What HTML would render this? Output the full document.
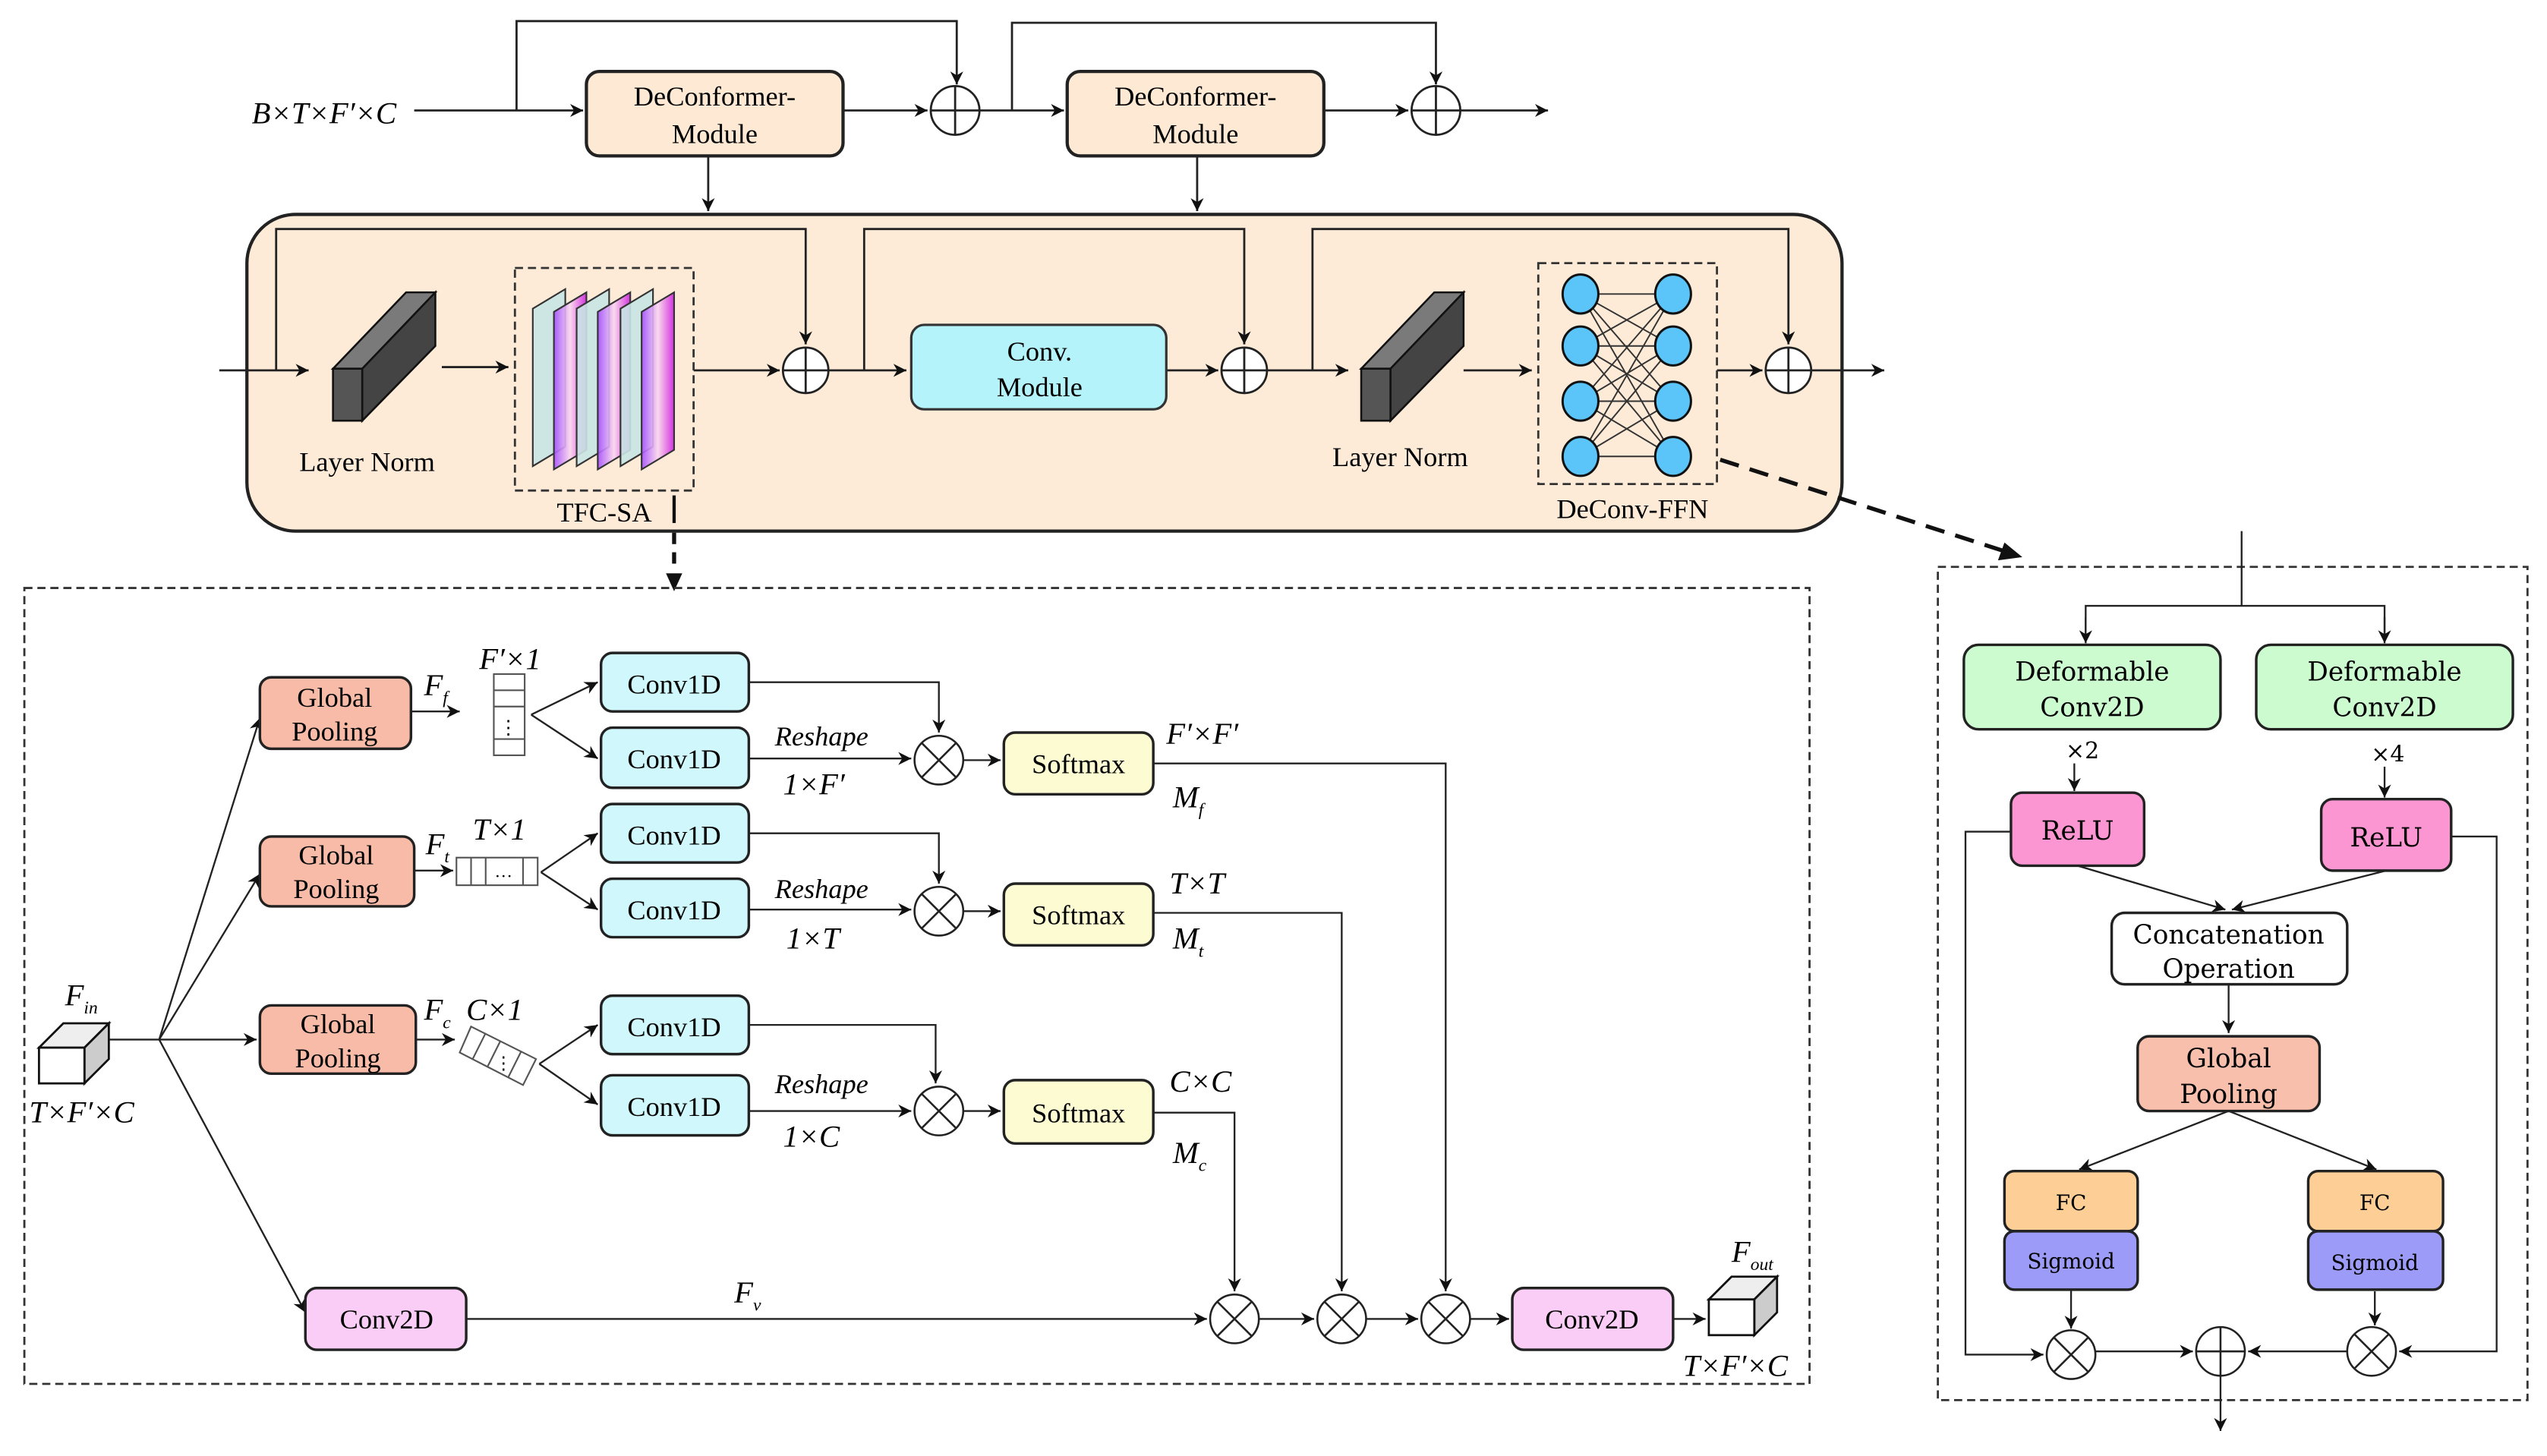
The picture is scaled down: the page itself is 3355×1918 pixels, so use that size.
<!DOCTYPE html>
<html><head><meta charset="utf-8"><style>html,body{margin:0;padding:0;background:#fff}svg{display:block}
svg text{font-family:"Liberation Serif","Times New Roman",serif}
svg g.dv text{font-family:"DejaVu Serif",serif}</style></head>
<body>
<svg width="3355" height="1918" viewBox="0 0 1568 896.4" xmlns="http://www.w3.org/2000/svg" font-size="17">
<defs>
<marker id="a" viewBox="0 0 10 10" refX="10" refY="5" markerWidth="8" markerHeight="8" orient="auto" markerUnits="userSpaceOnUse"><path d="M0,0 L10,5 L0,10 L3,5 z" fill="#111"/></marker>
<linearGradient id="mg" x1="0" x2="1"><stop offset="0" stop-color="#a64dff"/><stop offset="0.5" stop-color="#f9d6f0"/><stop offset="1" stop-color="#d020e0"/></linearGradient>
</defs>
<g stroke="#222" stroke-width="1.3" fill="none">
<line x1="255" y1="68" x2="359" y2="68" marker-end="url(#a)"/>
<polyline points="318,68 318,13 589,13 589,52" marker-end="url(#a)"/>
<line x1="519" y1="68" x2="571" y2="68" marker-end="url(#a)"/>
<line x1="603" y1="68" x2="655" y2="68" marker-end="url(#a)"/>
<polyline points="623,68 623,14 884,14 884,52" marker-end="url(#a)"/>
<line x1="815" y1="68" x2="867" y2="68" marker-end="url(#a)"/>
<line x1="899" y1="68" x2="953" y2="68" marker-end="url(#a)"/>
<line x1="436" y1="96" x2="436" y2="130" marker-end="url(#a)"/>
<line x1="737" y1="96" x2="737" y2="130" marker-end="url(#a)"/>
</g>
<rect x="361" y="44" width="158" height="52" rx="8" fill="#fde9d4" stroke="#222" stroke-width="2"/>
<rect x="657" y="44" width="158" height="52" rx="8" fill="#fde9d4" stroke="#222" stroke-width="2"/>
<text x="440" y="65" text-anchor="middle">DeConformer-</text><text x="440" y="88" text-anchor="middle">Module</text>
<text x="736" y="65" text-anchor="middle">DeConformer-</text><text x="736" y="88" text-anchor="middle">Module</text>
<text x="155" y="76" font-style="italic" font-size="19">B×T×F′×C</text>
<g stroke="#222" stroke-width="1.3" fill="#fff">
<circle cx="588" cy="68" r="15"/><path d="M573,68h30M588,53v30"/>
<circle cx="884" cy="68" r="15"/><path d="M869,68h30M884,53v30"/>
</g>
<rect x="152" y="132" width="982" height="195" rx="30" fill="#fdebd8" stroke="#222" stroke-width="2"/>
<g stroke="#222" stroke-width="1.3" fill="none">
<line x1="135" y1="228" x2="190" y2="228" marker-end="url(#a)"/>
<polyline points="170,228 170,141 496,141 496,212" marker-end="url(#a)"/>
<line x1="272" y1="226" x2="313" y2="226" marker-end="url(#a)"/>
<line x1="427" y1="228" x2="480" y2="228" marker-end="url(#a)"/>
<line x1="510" y1="228" x2="558" y2="228" marker-end="url(#a)"/>
<polyline points="532,228 532,141 766,141 766,212" marker-end="url(#a)"/>
<line x1="718" y1="228" x2="750" y2="228" marker-end="url(#a)"/>
<line x1="780" y1="228" x2="830" y2="228" marker-end="url(#a)"/>
<polyline points="808,228 808,141 1101,141 1101,212" marker-end="url(#a)"/>
<line x1="901" y1="228" x2="943" y2="228" marker-end="url(#a)"/>
<line x1="1057" y1="228" x2="1085" y2="228" marker-end="url(#a)"/>
<line x1="1115" y1="228" x2="1160" y2="228" marker-end="url(#a)"/>
</g>
<g stroke="#222" stroke-width="1.3" fill="#fff">
<circle cx="496" cy="228" r="14"/><path d="M482,228h28M496,214v28"/>
<circle cx="766" cy="228" r="14"/><path d="M752,228h28M766,214v28"/>
<circle cx="1101" cy="228" r="14"/><path d="M1087,228h28M1101,214v28"/>
</g>
<g stroke="#111" stroke-width="1.2">
<polygon points="205,227 223,227 268,180 250,180" fill="#7a7a7a"/>
<polygon points="223,227 223,259 268,213 268,180" fill="#444"/>
<rect x="205" y="227" width="18" height="32" fill="#555"/>
<polygon points="838,227 856,227 901,180 883,180" fill="#7a7a7a"/>
<polygon points="856,227 856,259 901,213 901,180" fill="#444"/>
<rect x="838" y="227" width="18" height="32" fill="#555"/>
</g>
<text x="226" y="290" text-anchor="middle">Layer Norm</text>
<text x="862" y="287" text-anchor="middle">Layer Norm</text>
<rect x="317" y="165" width="110" height="137" fill="none" stroke="#333" stroke-width="1.3" stroke-dasharray="5,3"/>
<g stroke="#333" stroke-width="1" fill-opacity="0.9">
<polygon points="328,190 348,178 348,275 328,287" fill="#c9e6e4"/>
<polygon points="341,192 361,180 361,277 341,289" fill="url(#mg)"/>
<polygon points="355,190 375,178 375,275 355,287" fill="#c9e6e4"/>
<polygon points="368,192 388,180 388,277 368,289" fill="url(#mg)"/>
<polygon points="382,190 402,178 402,275 382,287" fill="#c9e6e4"/>
<polygon points="395,192 415,180 415,277 395,289" fill="url(#mg)"/>
</g>
<text x="372" y="321" text-anchor="middle">TFC-SA</text>
<line x1="415" y1="305" x2="415" y2="322" stroke="#111" stroke-width="2"/>
<rect x="561" y="200" width="157" height="52" rx="8" fill="#b5f3fb" stroke="#333" stroke-width="1.5"/>
<text x="640" y="222" text-anchor="middle">Conv.</text><text x="640" y="244" text-anchor="middle">Module</text>
<rect x="947" y="162" width="110" height="136" fill="none" stroke="#333" stroke-width="1.3" stroke-dasharray="5,3"/>
<g stroke="#333" stroke-width="0.9">
<path d="M973,181L1030,181M973,181L1030,213M973,181L1030,247M973,181L1030,281M973,213L1030,181M973,213L1030,213M973,213L1030,247M973,213L1030,281M973,247L1030,181M973,247L1030,213M973,247L1030,247M973,247L1030,281M973,281L1030,181M973,281L1030,213M973,281L1030,247M973,281L1030,281"/>
</g>
<g fill="#5bc4f8" stroke="#111" stroke-width="1.4">
<ellipse cx="973" cy="181" rx="11" ry="12"/><ellipse cx="973" cy="213" rx="11" ry="12"/><ellipse cx="973" cy="247" rx="11" ry="12"/><ellipse cx="973" cy="281" rx="11" ry="12"/>
<ellipse cx="1030" cy="181" rx="11" ry="12"/><ellipse cx="1030" cy="213" rx="11" ry="12"/><ellipse cx="1030" cy="247" rx="11" ry="12"/><ellipse cx="1030" cy="281" rx="11" ry="12"/>
</g>
<text x="1005" y="319" text-anchor="middle">DeConv-FFN</text>
<line x1="1059" y1="283" x2="1236" y2="340" stroke="#111" stroke-width="2.5" stroke-dasharray="12,7"/>
<path d="M1245,343 L1230,345 L1234,334 z" fill="#111"/>
<line x1="415" y1="328" x2="415" y2="352" stroke="#111" stroke-width="2.5" stroke-dasharray="7,5"/>
<path d="M415,364 L410,353 L420,353 z" fill="#111"/>
<rect x="15" y="362" width="1099" height="490" fill="none" stroke="#333" stroke-width="1.3" stroke-dasharray="5,3"/>
<g stroke="#222" stroke-width="1.1" fill="none">
<line x1="67" y1="640" x2="158" y2="640" marker-end="url(#a)"/>
<line x1="98" y1="640" x2="160" y2="442" marker-end="url(#a)"/>
<line x1="98" y1="640" x2="160" y2="538" marker-end="url(#a)"/>
<line x1="98" y1="640" x2="188" y2="808" marker-end="url(#a)"/>
<line x1="253" y1="438" x2="283" y2="438" marker-end="url(#a)"/>
<line x1="255" y1="536" x2="279" y2="536" marker-end="url(#a)"/>
<line x1="256" y1="640" x2="280" y2="640" marker-end="url(#a)"/>
<line x1="327" y1="440" x2="368" y2="420" marker-end="url(#a)"/><line x1="327" y1="440" x2="368" y2="467" marker-end="url(#a)"/>
<line x1="333" y1="537" x2="368" y2="513" marker-end="url(#a)"/><line x1="333" y1="537" x2="368" y2="560" marker-end="url(#a)"/>
<line x1="332" y1="655" x2="368" y2="631" marker-end="url(#a)"/><line x1="332" y1="655" x2="368" y2="680" marker-end="url(#a)"/>
<polyline points="461,420 578,420 578,451" marker-end="url(#a)"/>
<polyline points="461,513 578,513 578,544" marker-end="url(#a)"/>
<polyline points="461,631 576,631 576,667" marker-end="url(#a)"/>
<line x1="461" y1="467" x2="561" y2="467" marker-end="url(#a)"/>
<line x1="461" y1="560" x2="561" y2="560" marker-end="url(#a)"/>
<line x1="461" y1="684" x2="561" y2="684" marker-end="url(#a)"/>
<line x1="593" y1="468" x2="616" y2="468" marker-end="url(#a)"/>
<line x1="593" y1="561" x2="616" y2="561" marker-end="url(#a)"/>
<line x1="593" y1="684" x2="616" y2="684" marker-end="url(#a)"/>
<polyline points="710,470 890,470 890,795" marker-end="url(#a)"/>
<polyline points="710,562 826,562 826,795" marker-end="url(#a)"/>
<polyline points="710,685 760,685 760,795" marker-end="url(#a)"/>
<line x1="287" y1="812" x2="743" y2="812" marker-end="url(#a)"/>
<line x1="775" y1="812" x2="809" y2="812" marker-end="url(#a)"/>
<line x1="841" y1="812" x2="873" y2="812" marker-end="url(#a)"/>
<line x1="905" y1="812" x2="929" y2="812" marker-end="url(#a)"/>
<line x1="1030" y1="812" x2="1050" y2="812" marker-end="url(#a)"/>
</g>
<g stroke="#222" stroke-width="1.2" fill="#fff">
<circle cx="578" cy="468" r="15"/><path d="M567.4,457.4l21.2,21.2M588.6,457.4l-21.2,21.2"/>
<circle cx="578" cy="561" r="15"/><path d="M567.4,550.4l21.2,21.2M588.6,550.4l-21.2,21.2"/>
<circle cx="578" cy="684" r="15"/><path d="M567.4,673.4l21.2,21.2M588.6,673.4l-21.2,21.2"/>
<circle cx="760" cy="812" r="15"/><path d="M749.4,801.4l21.2,21.2M770.6,801.4l-21.2,21.2"/>
<circle cx="826" cy="812" r="15"/><path d="M815.4,801.4l21.2,21.2M836.6,801.4l-21.2,21.2"/>
<circle cx="890" cy="812" r="15"/><path d="M879.4,801.4l21.2,21.2M900.6,801.4l-21.2,21.2"/>
</g>
<g stroke="#111" stroke-width="1.3">
<polygon points="24,645 52,645 67,630 39,630" fill="#eee"/>
<polygon points="52,645 52,667 67,652 67,630" fill="#ccc"/>
<rect x="24" y="645" width="28" height="22" fill="#fff"/>
<polygon points="1052,800 1080,800 1094,786 1066,786" fill="#eee"/>
<polygon points="1080,800 1080,822 1094,808 1094,786" fill="#ccc"/>
<rect x="1052" y="800" width="28" height="22" fill="#fff"/>
</g>
<g stroke="#555" stroke-width="1" fill="#fff">
<rect x="304" y="415" width="19" height="50"/><path d="M304,425h19M304,435h19M304,455h19"/>
<rect x="281" y="528" width="50" height="17"/><path d="M290,528v17M299,528v17M322,528v17"/>
<polygon points="290,632 330,652 322,668 283,648"/><path d="M299,636l-8,16M308,641l-8,16M321,647l-8,16"/>
</g>
<text x="313" y="452" text-anchor="middle" font-size="12">⋮</text>
<text x="310" y="540" text-anchor="middle" font-size="11">…</text>
<text x="310" y="658" text-anchor="middle" font-size="11">⋮</text>
<g stroke="#222" stroke-width="1.6">
<rect x="160" y="417" width="93" height="44" rx="7" fill="#f8bba8"/>
<rect x="160" y="515" width="95" height="43" rx="7" fill="#f8bba8"/>
<rect x="160" y="619" width="96" height="42" rx="7" fill="#f8bba8"/>
<rect x="370" y="402" width="91" height="36" rx="7" fill="#cff7fc"/>
<rect x="370" y="448" width="91" height="37" rx="7" fill="#cff7fc"/>
<rect x="370" y="495" width="91" height="36" rx="7" fill="#cff7fc"/>
<rect x="370" y="541" width="91" height="36" rx="7" fill="#cff7fc"/>
<rect x="370" y="613" width="91" height="36" rx="7" fill="#cff7fc"/>
<rect x="370" y="662" width="91" height="37" rx="7" fill="#cff7fc"/>
<rect x="618" y="451" width="92" height="38" rx="7" fill="#fdfbd2"/>
<rect x="618" y="544" width="92" height="38" rx="7" fill="#fdfbd2"/>
<rect x="618" y="665" width="92" height="39" rx="7" fill="#fdfbd2"/>
<rect x="188" y="793" width="99" height="38" rx="7" fill="#f9cdf5"/>
<rect x="931" y="793" width="99" height="38" rx="7" fill="#f9cdf5"/>
</g>
<g text-anchor="middle">
<text x="206" y="435">Global</text><text x="206" y="456">Pooling</text>
<text x="207" y="532">Global</text><text x="207" y="553">Pooling</text>
<text x="208" y="636">Global</text><text x="208" y="657">Pooling</text>
<text x="415" y="427">Conv1D</text><text x="415" y="473">Conv1D</text>
<text x="415" y="520">Conv1D</text><text x="415" y="566">Conv1D</text>
<text x="415" y="638">Conv1D</text><text x="415" y="687">Conv1D</text>
<text x="664" y="476">Softmax</text><text x="664" y="569">Softmax</text><text x="664" y="691">Softmax</text>
<text x="238" y="818">Conv2D</text><text x="980" y="818">Conv2D</text>
</g>
<g font-style="italic" font-size="19">
<text x="261" y="428">F<tspan font-size="11" dy="5">f</tspan></text>
<text x="295" y="412">F′×1</text>
<text x="262" y="526">F<tspan font-size="11" dy="5">t</tspan></text>
<text x="291" y="517">T×1</text>
<text x="261" y="628">F<tspan font-size="11" dy="5">c</tspan></text>
<text x="287" y="628">C×1</text>
<text x="477" y="459" font-size="17">Reshape</text><text x="482" y="489">1×F′</text>
<text x="477" y="553" font-size="17">Reshape</text><text x="484" y="584">1×T</text>
<text x="477" y="673" font-size="17">Reshape</text><text x="482" y="706">1×C</text>
<text x="718" y="458">F′×F′</text><text x="722" y="497">M<tspan font-size="11" dy="5">f</tspan></text>
<text x="720" y="550">T×T</text><text x="722" y="584">M<tspan font-size="11" dy="5">t</tspan></text>
<text x="720" y="672">C×C</text><text x="722" y="716">M<tspan font-size="11" dy="5">c</tspan></text>
<text x="452" y="802">F<tspan font-size="11" dy="5">v</tspan></text>
<text x="40" y="619">F<tspan font-size="11" dy="5">in</tspan></text>
<text x="18" y="691">T×F′×C</text>
<text x="1066" y="777">F<tspan font-size="11" dy="5">out</tspan></text>
<text x="1036" y="847">T×F′×C</text>
</g>
<rect x="1193" y="349" width="363" height="513" fill="none" stroke="#333" stroke-width="1.3" stroke-dasharray="5,3"/>
<g stroke="#222" stroke-width="1.1" fill="none">
<polyline points="1380,327 1380,373"/>
<polyline points="1284,395 1284,373 1468,373 1468,395" />
<line x1="1284" y1="380" x2="1284" y2="396" marker-end="url(#a)"/>
<line x1="1468" y1="380" x2="1468" y2="396" marker-end="url(#a)"/>
<line x1="1277" y1="470" x2="1277" y2="487" marker-end="url(#a)"/>
<line x1="1468" y1="472" x2="1468" y2="491" marker-end="url(#a)"/>
<line x1="1279" y1="533" x2="1370" y2="560" marker-end="url(#a)"/>
<line x1="1469" y1="536" x2="1374" y2="560" marker-end="url(#a)"/>
<line x1="1372" y1="606" x2="1372" y2="636" marker-end="url(#a)"/>
<line x1="1372" y1="684" x2="1280" y2="720" marker-end="url(#a)"/>
<line x1="1372" y1="684" x2="1463" y2="720" marker-end="url(#a)"/>
<line x1="1275" y1="794" x2="1275" y2="818" marker-end="url(#a)"/>
<line x1="1462" y1="795" x2="1462" y2="816" marker-end="url(#a)"/>
<polyline points="1238,512 1210,512 1210,834 1258,834" marker-end="url(#a)"/>
<polyline points="1509,515 1537,515 1537,832 1477,832" marker-end="url(#a)"/>
<line x1="1290" y1="832" x2="1350" y2="832" marker-end="url(#a)"/>
<line x1="1445" y1="832" x2="1384" y2="832" marker-end="url(#a)"/>
<line x1="1367" y1="847" x2="1367" y2="881" marker-end="url(#a)"/>
</g>
<g stroke="#222" stroke-width="1.2" fill="#fff">
<circle cx="1275" cy="834" r="15"/><path d="M1264.4,823.4l21.2,21.2M1285.6,823.4l-21.2,21.2"/>
<circle cx="1460" cy="832" r="15"/><path d="M1449.4,821.4l21.2,21.2M1470.6,821.4l-21.2,21.2"/>
<circle cx="1367" cy="832" r="15"/><path d="M1352,832h30M1367,817v30"/>
</g>
<g stroke="#222" stroke-width="1.6">
<rect x="1209" y="397" width="158" height="52" rx="9" fill="#ccfbd0"/>
<rect x="1389" y="397" width="158" height="52" rx="9" fill="#ccfbd0"/>
<rect x="1238" y="488" width="82" height="45" rx="7" fill="#fb96d3"/>
<rect x="1429" y="492" width="80" height="44" rx="7" fill="#fb96d3"/>
<rect x="1300" y="562" width="145" height="44" rx="8" fill="#fff"/>
<rect x="1316" y="638" width="112" height="46" rx="7" fill="#f8bfac"/>
<rect x="1234" y="721" width="82" height="37" rx="6" fill="#fdcf96"/>
<rect x="1234" y="758" width="82" height="36" rx="6" fill="#9c9cf8"/>
<rect x="1421" y="721" width="83" height="37" rx="6" fill="#fdcf96"/>
<rect x="1421" y="758" width="83" height="36" rx="6" fill="#9c9cf8"/>
</g>
<g class="dv" text-anchor="middle" font-size="16">
<text x="1288" y="419">Deformable</text><text x="1288" y="441">Conv2D</text>
<text x="1468" y="419">Deformable</text><text x="1468" y="441">Conv2D</text>
<text x="1282" y="467" font-size="14">×2</text><text x="1470" y="469" font-size="14">×4</text>
<text x="1279" y="517">ReLU</text><text x="1469" y="521">ReLU</text>
<text x="1372" y="581">Concatenation</text><text x="1372" y="602">Operation</text>
<text x="1372" y="657">Global</text><text x="1372" y="679">Pooling</text>
<text x="1275" y="745" font-size="13">FC</text><text x="1462" y="745" font-size="13">FC</text>
<text x="1275" y="781" font-size="13">Sigmoid</text><text x="1462" y="782" font-size="13">Sigmoid</text>
</g>
</svg>
</body></html>
